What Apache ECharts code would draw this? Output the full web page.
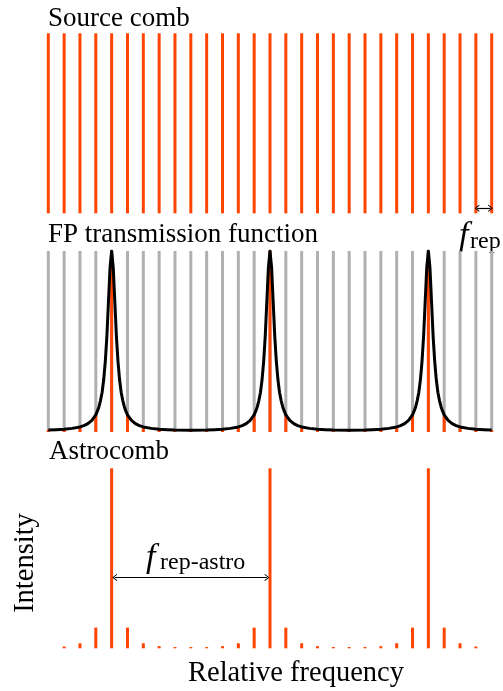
<!DOCTYPE html>
<html>
<head>
<meta charset="utf-8">
<title>Astrocomb</title>
<script src="https://cdn.jsdelivr.net/npm/echarts@6/dist/echarts.min.js"></script>
<style>
  html, body { margin: 0; padding: 0; background: #fff; }
  #chart { width: 503px; height: 691px; }
</style>
</head>
<body>
<div id="chart"></div>
<script>
// Comb line positions (in units of the source repetition rate)
const lineIndex = [0, 1, 2, 3, 4, 5, 6, 7, 8, 9, 10, 11, 12, 13, 14, 15, 16, 17, 18, 19, 20, 21, 22, 23, 24, 25, 26, 27, 28];

// Source comb: every mode at equal intensity
const sourceComb = [1, 1, 1, 1, 1, 1, 1, 1, 1, 1, 1, 1, 1, 1, 1, 1, 1, 1, 1, 1, 1, 1, 1, 1, 1, 1, 1, 1, 1];

// Part of each mode passed by the Fabry-Perot cavity
const fpPassed = [0.011, 0.015, 0.028, 0.095, 1, 0.095, 0.028, 0.015, 0.011, 0.010, 0.011, 0.015, 0.028, 0.095, 1,
                  0.095, 0.028, 0.015, 0.011, 0.010, 0.011, 0.015, 0.028, 0.095, 1, 0.095, 0.028, 0.015, 0.011];

// Astrocomb output after filtering
const astroComb = [0, 0.010, 0.028, 0.115, 1, 0.115, 0.028, 0.012, 0.007, 0.007, 0.007, 0.012, 0.028, 0.115, 1,
                   0.115, 0.028, 0.012, 0.007, 0.007, 0.007, 0.012, 0.028, 0.115, 1, 0.115, 0.028, 0.010, 0];

// Cavity resonances and the transmission profile around each one
const peakCenters = [4, 14, 24];
const profileOffset = [0, 0.1, 0.2, 0.3, 0.4, 0.5, 0.6, 0.7, 0.8, 0.9, 1.0, 1.25, 1.5, 1.75, 2.0, 2.5, 3.0, 3.5, 4.0, 5.0];
const profileValue  = [1.00, 0.91, 0.72, 0.53, 0.39, 0.29, 0.22, 0.175, 0.14, 0.115, 0.095, 0.064, 0.046, 0.035, 0.028, 0.020, 0.015, 0.013, 0.011, 0.010];

// Arrow spans (line index from / to)
const repSpan = [27.08, 27.92];
const astroSpan = [4.2, 13.8];

const ORANGE = '#ff4500';
const GRAY = '#b0b0b0';
const SERIF = '"Liberation Serif", "Times New Roman", serif';

// Transmission curve: profile mirrored around each resonance
const curveMap = new Map();
peakCenters.forEach(c => {
  profileOffset.forEach((d, i) => {
    [c - d, c + d].forEach(x => {
      if (x >= lineIndex[0] && x <= lineIndex[lineIndex.length - 1]) {
        curveMap.set(Math.round(x * 100) / 100, profileValue[i]);
      }
    });
  });
});
const curve = Array.from(curveMap.entries()).sort((a, b) => a[0] - b[0]);

const pair = vals => lineIndex.map((x, i) => [x, vals[i]]);

const chevron = 'path://M5,0 L10,7 L9,8 L5,2.2 L1,8 L0,7 Z';

const gridX = { left: 45.13, width: 449.74 };
const grids = [
  Object.assign({ top: 33.3, height: 180 }, gridX),
  Object.assign({ top: 251, height: 181 }, gridX),
  Object.assign({ top: 468.3, height: 180 }, gridX)
];

const xAxes = grids.map((g, i) => ({
  type: 'value', gridIndex: i, min: -0.2, max: 28.2,
  show: false
}));
const yAxes = grids.map((g, i) => ({
  type: 'value', gridIndex: i, min: 0, max: 1, show: false
}));

// place text by its baseline
function text(str, x, baseline, size, style) {
  return {
    type: 'text', x: x, y: baseline - 0.27 * size,
    style: Object.assign({
      text: str, font: size + 'px ' + SERIF, fill: '#000',
      align: 'left', verticalAlign: 'middle'
    }, style || {})
  };
}

function arrowLine(span, y) {
  return {
    silent: true, animation: false,
    symbol: [chevron, chevron], symbolSize: [7, 5],
    lineStyle: { color: '#000', width: 1.2, type: 'solid' },
    label: { show: false },
    data: [[{ coord: [span[0], y] }, { coord: [span[1], y] }]]
  };
}

const option = {
  animation: false,
  backgroundColor: '#fff',
  grid: grids,
  xAxis: xAxes,
  yAxis: yAxes,
  series: [
    {
      name: 'Source comb', type: 'bar', xAxisIndex: 0, yAxisIndex: 0,
      barWidth: 3, data: pair(sourceComb),
      itemStyle: { color: ORANGE },
      markLine: arrowLine(repSpan, 0.028)
    },
    {
      name: 'Comb modes', type: 'bar', xAxisIndex: 1, yAxisIndex: 1,
      barWidth: 3, barGap: '-100%', data: pair(sourceComb),
      itemStyle: { color: GRAY }
    },
    {
      name: 'Transmitted modes', type: 'bar', xAxisIndex: 1, yAxisIndex: 1,
      barWidth: 3, barGap: '-100%', data: pair(fpPassed),
      itemStyle: { color: ORANGE }
    },
    {
      name: 'FP transmission', type: 'line', xAxisIndex: 1, yAxisIndex: 1,
      data: curve, showSymbol: false, smooth: false, z: 5,
      lineStyle: { color: '#000', width: 3, join: 'round' }
    },
    {
      name: 'Astrocomb', type: 'bar', xAxisIndex: 2, yAxisIndex: 2,
      barWidth: 3, data: pair(astroComb),
      itemStyle: { color: ORANGE },
      markLine: arrowLine(astroSpan, 0.394)
    }
  ],
  graphic: [
    text('Source comb', 48, 26, 27),
    text('FP transmission function', 48, 242, 27),
    text('Astrocomb', 49, 459, 27),
    text('f', 459, 245, 34, { font: 'italic 34px ' + SERIF }),
    text('rep', 470, 248, 24),
    text('f', 146, 567, 34, { font: 'italic 34px ' + SERIF }),
    text('rep-astro', 160, 569, 24),
    text('Relative frequency', 296, 681, 28.5, { align: 'center' }),
    {
      type: 'text', x: 33 - 0.27 * 28.5, y: 563, rotation: Math.PI / 2,
      style: {
        text: 'Intensity', font: '28.5px ' + SERIF, fill: '#000',
        align: 'center', verticalAlign: 'middle'
      }
    }
  ]
};

const chart = echarts.init(document.getElementById('chart'), null, { renderer: 'canvas' });
chart.setOption(option);
</script>
</body>
</html>
